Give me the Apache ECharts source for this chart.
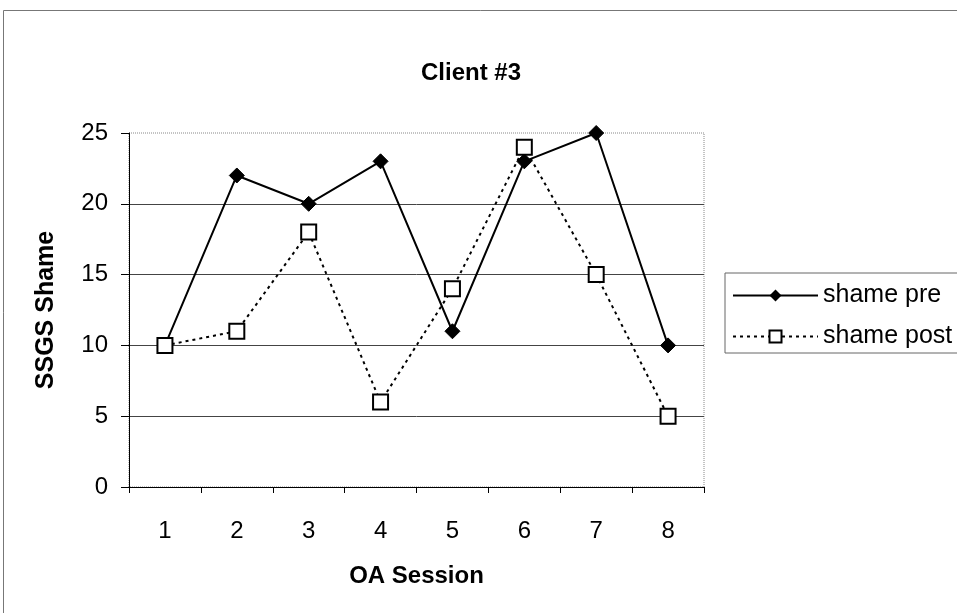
<!DOCTYPE html>
<html><head><meta charset="utf-8">
<script src="https://cdn.jsdelivr.net/npm/echarts@6/dist/echarts.min.js"></script>
<style>html,body{margin:0;padding:0;background:#fff}#c{width:957px;height:613px}</style>
</head><body><div id="c"></div>
<script>
var categories = ['1','2','3','4','5','6','7','8'];
var shamePre = [10, 22, 20, 23, 11, 23, 25, 10];
var shamePost = [10, 11, 18, 6, 14, 24, 15, 5];

var chart = echarts.init(document.getElementById('c'));
var F = 'Liberation Sans, Arial, sans-serif';
chart.setOption({
  animation: false,
  backgroundColor: '#fff',
  graphic: [{type:'rect', shape:{x:3.5,y:10.5,width:1000,height:700}, style:{fill:'none',stroke:'#777',lineWidth:1}, z:-1}],
  title: {text:'Client #3', left: 466, top: 56, textAlign:'center', textStyle:{fontFamily:F, fontSize:24, fontWeight:'bold', color:'#000'}},
  grid: {left:129, top:133, width:575, height:354, show:true, borderColor:'#888', borderWidth:1, borderType:'dotted'},
  legend: {
    left: 725, top: 273, orient:'vertical', itemWidth:85, itemHeight:15, itemGap:16,
    padding:[10,14,4,7], borderColor:'#666', borderWidth:1,
    textStyle:{fontFamily:F, fontSize:25, color:'#000'},
    data:['shame pre','shame post']
  },
  xAxis: {
    type:'category', data:categories, boundaryGap:true,
    name:'OA Session', nameLocation:'middle', nameGap:77,
    nameTextStyle:{fontFamily:F, fontSize:24, fontWeight:'bold', color:'#000'},
    axisLine:{lineStyle:{color:'#000', width:1}},
    axisTick:{show:true, length:6, inside:false, lineStyle:{color:'#000'}},
    axisLabel:{fontFamily:F, fontSize:24, color:'#000', margin:32},
    splitLine:{show:false}
  },
  yAxis: {
    type:'value', min:0, max:25, interval:5,
    name:'SSGS Shame', nameLocation:'middle', nameGap:70, nameRotate:90,
    nameTextStyle:{fontFamily:F, fontSize:25, fontWeight:'bold', color:'#000'},
    axisLine:{show:true, lineStyle:{color:'#000', width:1}},
    axisTick:{show:true, length:8, lineStyle:{color:'#000'}},
    axisLabel:{fontFamily:F, fontSize:24, color:'#000', margin:21},
    splitLine:{show:true, showMaxLine:false, lineStyle:{color:'#444', width:1}}
  },
  series: [
    {name:'shame pre', type:'line', data:shamePre, symbol:'diamond', symbolSize:15,
     lineStyle:{color:'#000', width:2}, itemStyle:{color:'#000', borderColor:'#000'}, z:3},
    {name:'shame post', type:'line', data:shamePost, symbol:'rect', symbolSize:15,
     lineStyle:{color:'#000', width:2, type:[3,4]}, itemStyle:{color:'#fff', borderColor:'#000', borderWidth:2}, z:4}
  ]
});
</script></body></html>
